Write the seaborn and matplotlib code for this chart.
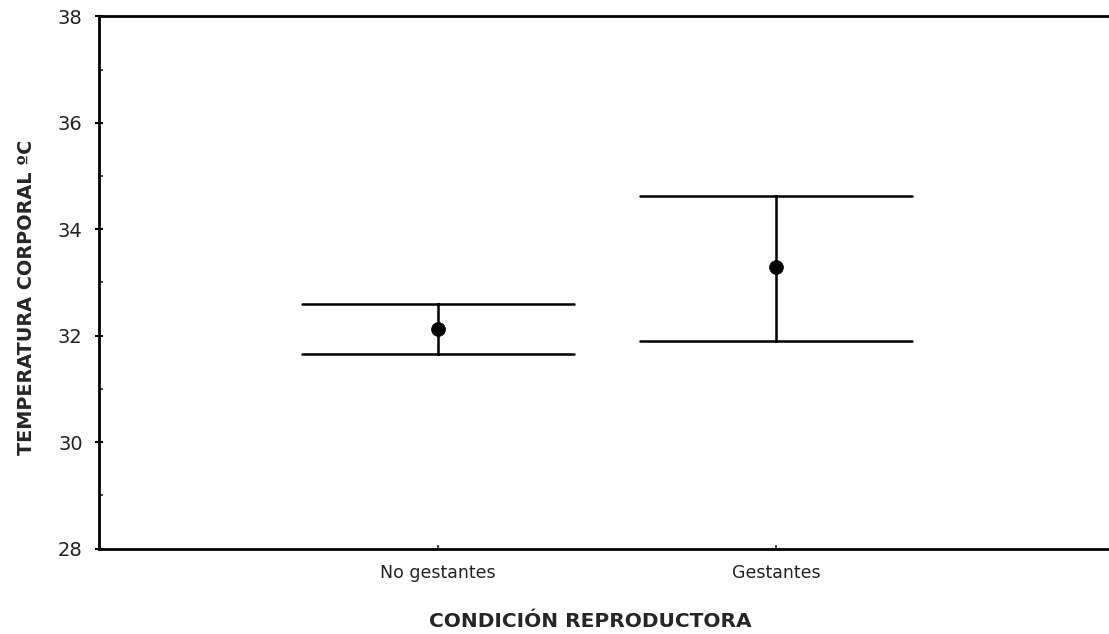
import matplotlib
matplotlib.use("Agg")
import matplotlib.pyplot as plt
import seaborn as sns
import pandas as pd
import numpy as np
from matplotlib.ticker import MultipleLocator

categories = ["No gestantes", "Gestantes"]
means = [32.13, 33.28]
ci_low = [31.66, 31.90]
ci_high = [32.59, 34.63]
y_ticks = [28, 30, 32, 34, 36, 38]

rows = []
for c, lo, m, hi in zip(categories, ci_low, means, ci_high):
    for v in (lo, m, hi):
        rows.append({"cond": c, "temp": v})
df = pd.DataFrame(rows)

sns.set_style("ticks")
plt.rcParams["font.family"] = ["DejaVu Sans"]

fig = plt.figure(figsize=(11.09, 6.34), dpi=100)
ax = fig.add_axes([99.3 / 1109, 1 - 548.5 / 634, 1 - 99.3 / 1109, (548.5 - 16.3) / 634])

sns.pointplot(
    data=df, x="cond", y="temp", order=categories,
    estimator="median", errorbar=lambda v: (v.min(), v.max()),
    capsize=0.805, color="black", linestyle="none", marker="o",
    markersize=10, markeredgewidth=0.5,
    err_kws={"linewidth": 1.8}, ax=ax,
)

ax.set_xlim(-1.002, 1.985)
ax.set_ylim(28, 38)
ax.set_yticks(y_ticks)
ax.yaxis.set_minor_locator(MultipleLocator(1))

for side in ["left", "bottom", "top"]:
    ax.spines[side].set_linewidth(2.0)
    ax.spines[side].set_color("black")
ax.spines["right"].set_visible(False)

ax.tick_params(axis="y", which="major", direction="inout", length=6, width=1.5,
               labelsize=14, pad=9, colors="black", labelcolor="#222222")
ax.tick_params(axis="y", which="minor", direction="in", length=3, width=1.2)
ax.tick_params(axis="x", which="major", direction="in", length=3, width=1.2,
               labelsize=12.5, pad=11, labelcolor="#222222")

ax.set_xlabel("CONDICIÓN REPRODUCTORA", fontsize=14.5, fontweight="bold")
ax.set_ylabel("TEMPERATURA CORPORAL ºC", fontsize=13.9, fontweight="bold")
ax.xaxis.set_label_coords((590 - 99.3) / 1009.7, -(612 - 548.5) / 532.2)
ax.yaxis.set_label_coords((36 - 99.3) / 1009.7, (548.5 - 297) / 532.2)

fig.savefig("out.png", dpi=100)
